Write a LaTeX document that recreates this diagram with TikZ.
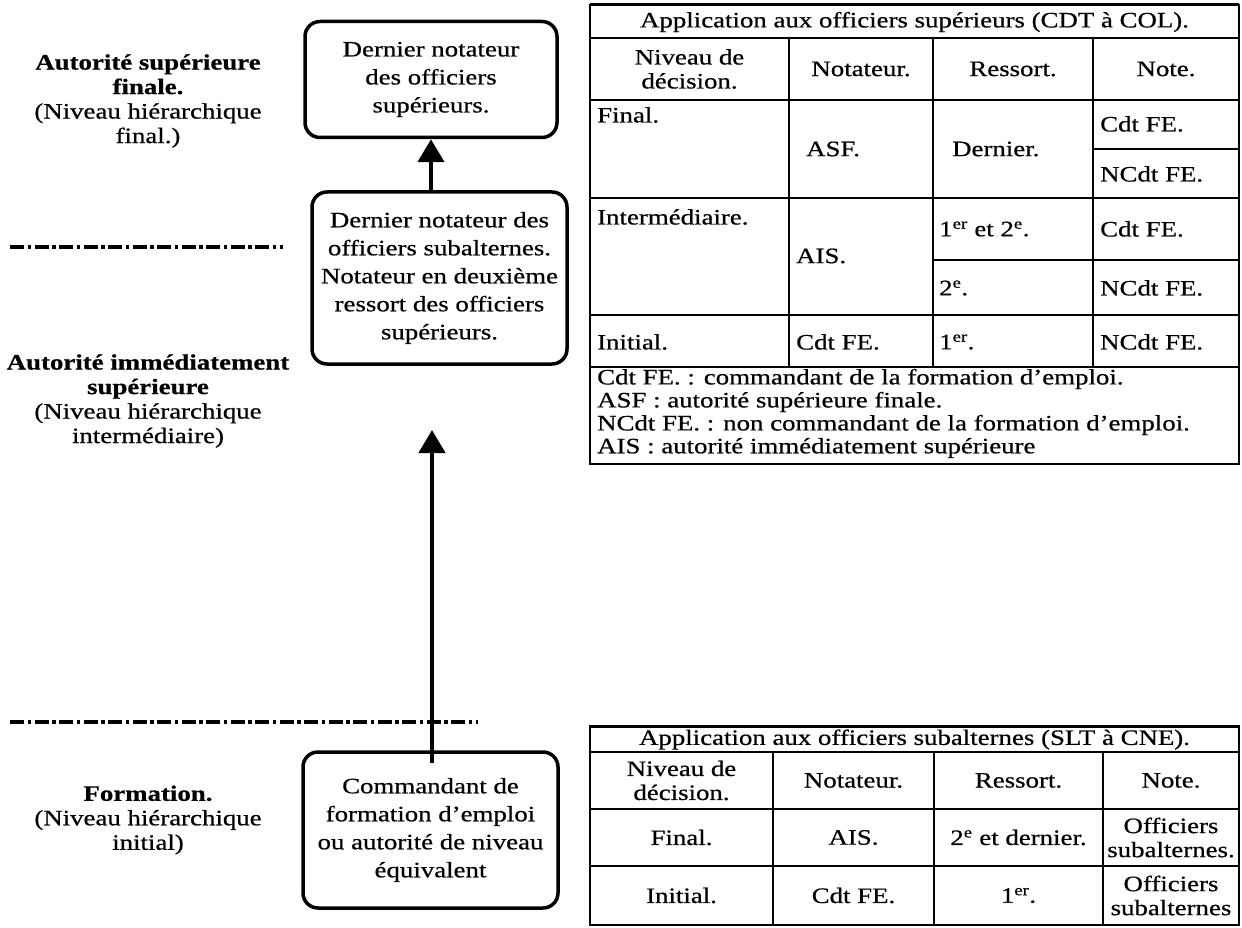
\documentclass[tikz,border=0pt]{standalone}
\usepackage{fontspec}
\setmainfont[FakeStretch=1.22,FakeBold=0.6]{Liberation Serif}
\usetikzlibrary{arrows.meta}
\begin{document}
\begin{tikzpicture}[x=1pt,y=-1pt,
  every node/.style={font=\fontsize{22}{23.5}\selectfont, inner sep=0pt},
  lbl/.style={align=center, font=\fontsize{22}{24.5}\selectfont},
  boxn/.style={draw, line width=3.5pt, rounded corners=15pt, align=center, font=\fontsize{22}{28}\selectfont},
  arr/.style={line width=4.5pt, -{Triangle[length=23pt,width=26pt]}},
  sepline/.style={line width=4.5pt, dash pattern=on 14pt off 3.5pt on 3.5pt off 3.5pt},
  tl/.style={line width=2.2pt},
  cell/.style={anchor=west},
  ctr/.style={align=center, font=\fontsize{22}{24}\selectfont}
]
\useasboundingbox (0,0) rectangle (1242,928);

% left labels
\node[lbl] (l1) at (148,101) {\textbf{Autorité supérieure}\\\textbf{finale.}\\(Niveau hiérarchique\\final.)};
\node[lbl] (l2) at (148,401) {\textbf{Autorité immédiatement}\\\textbf{supérieure}\\(Niveau hiérarchique\\intermédiaire)};
\node[lbl] (l3) at (148,820) {\textbf{Formation.}\\(Niveau hiérarchique\\initial)};

% dashed separators
\coordinate (d1a) at (10,247);
\coordinate (d1b) at (283,247);
\coordinate (d2a) at (10,722);
\coordinate (d2b) at (478,722);
\draw[sepline] (d1a) -- (d1b);
\draw[sepline] (d2a) -- (d2b);

% boxes
\node[boxn, minimum width=252pt, minimum height=116pt] (top) at (431,79.5) {Dernier notateur\\des officiers\\supérieurs.};
\node[boxn, minimum width=255pt, minimum height=172pt] (mid) at (439.5,278) {Dernier notateur des\\officiers subalternes.\\Notateur en deuxième\\ressort des officiers\\supérieurs.};
\node[boxn, minimum width=255pt, minimum height=156pt] (bot) at (430.5,830) {Commandant de\\formation d’emploi\\ou autorité de niveau\\équivalent};

% arrows
\coordinate (ax) at (431,0);
\draw[arr] (mid.north -| ax) -- (top.south -| ax);
\coordinate (tip2) at (432,430);
\coordinate (tail2) at (432,763);
\draw[arr] (tail2) -- (tip2);

% top table
\draw[tl] (590,5) rectangle (1239,464);
\draw[line width=3pt] (590,5) -- (1239,5);
\draw[tl] (590,38) -- (1239,38);
\draw[tl] (590,100) -- (1239,100);
\draw[tl] (590,198) -- (1239,198);
\draw[tl] (590,315) -- (1239,315);
\draw[tl] (590,367) -- (1239,367);
\draw[tl] (789,38) -- (789,367);
\draw[tl] (933,38) -- (933,367);
\draw[tl] (1093,38) -- (1093,367);
\draw[tl] (1093,149) -- (1239,149);
\draw[tl] (933,260) -- (1239,260);

\node (tt) at (914.5,22) {Application aux officiers supérieurs (CDT à COL).};
\node[ctr] (th1) at (689.5,69) {Niveau de\\décision.};
\node (th2) at (861,69) {Notateur.};
\node (th3) at (1013,69) {Ressort.};
\node (th4) at (1166,69) {Note.};
\node[cell] (tf1) at (597,115) {Final.};
\node[cell] (tf2) at (806,149) {ASF.};
\node[cell] (tf3) at (952,149) {Dernier.};
\node[cell] (tf4) at (1100,124) {Cdt FE.};
\node[cell] (tf5) at (1100,174) {NCdt FE.};
\node[cell] (ti1) at (597,217) {Intermédiaire.};
\node[cell] (ti2) at (796,256) {AIS.};
\node[cell] (ti3) at (939,229) {1\textsuperscript{er} et 2\textsuperscript{e}.};
\node[cell] (ti4) at (1100,229) {Cdt FE.};
\node[cell] (ti5) at (939,288) {2\textsuperscript{e}.};
\node[cell] (ti6) at (1100,288) {NCdt FE.};
\node[cell] (tn1) at (597,342) {Initial.};
\node[cell] (tn2) at (796,342) {Cdt FE.};
\node[cell] (tn3) at (939,342) {1\textsuperscript{er}.};
\node[cell] (tn4) at (1100,342) {NCdt FE.};
\node[cell] (lg1) at (597,379) {Cdt FE. : commandant de la formation d’emploi.};
\node[cell] (lg2) at (597,402) {ASF : autorité supérieure finale.};
\node[cell] (lg3) at (597,425) {NCdt FE. : non commandant de la formation d’emploi.};
\node[cell] (lg4) at (597,448) {AIS : autorité immédiatement supérieure};

% bottom table
\draw[tl] (590,726) rectangle (1239,925);
\draw[line width=3pt] (590,726) -- (1239,726);
\draw[tl] (590,752) -- (1239,752);
\draw[tl] (590,809) -- (1239,809);
\draw[tl] (590,866) -- (1239,866);
\draw[tl] (773,752) -- (773,925);
\draw[tl] (934,752) -- (934,925);
\draw[tl] (1103,752) -- (1103,925);

\node (bt) at (914.5,739.5) {Application aux officiers subalternes (SLT à CNE).};
\node[ctr] (bh1) at (681.5,780.5) {Niveau de\\décision.};
\node (bh2) at (853.5,780.5) {Notateur.};
\node (bh3) at (1018.5,780.5) {Ressort.};
\node (bh4) at (1171,780.5) {Note.};
\node (bf1) at (681.5,837.5) {Final.};
\node (bf2) at (853.5,837.5) {AIS.};
\node (bf3) at (1018.5,837.5) {2\textsuperscript{e} et dernier.};
\node[ctr] (bf4) at (1171,837.5) {Officiers\\subalternes.};
\node (bn1) at (681.5,895.5) {Initial.};
\node (bn2) at (853.5,895.5) {Cdt FE.};
\node (bn3) at (1018.5,895.5) {1\textsuperscript{er}.};
\node[ctr] (bn4) at (1171,895.5) {Officiers\\subalternes};
\end{tikzpicture}
\end{document}
